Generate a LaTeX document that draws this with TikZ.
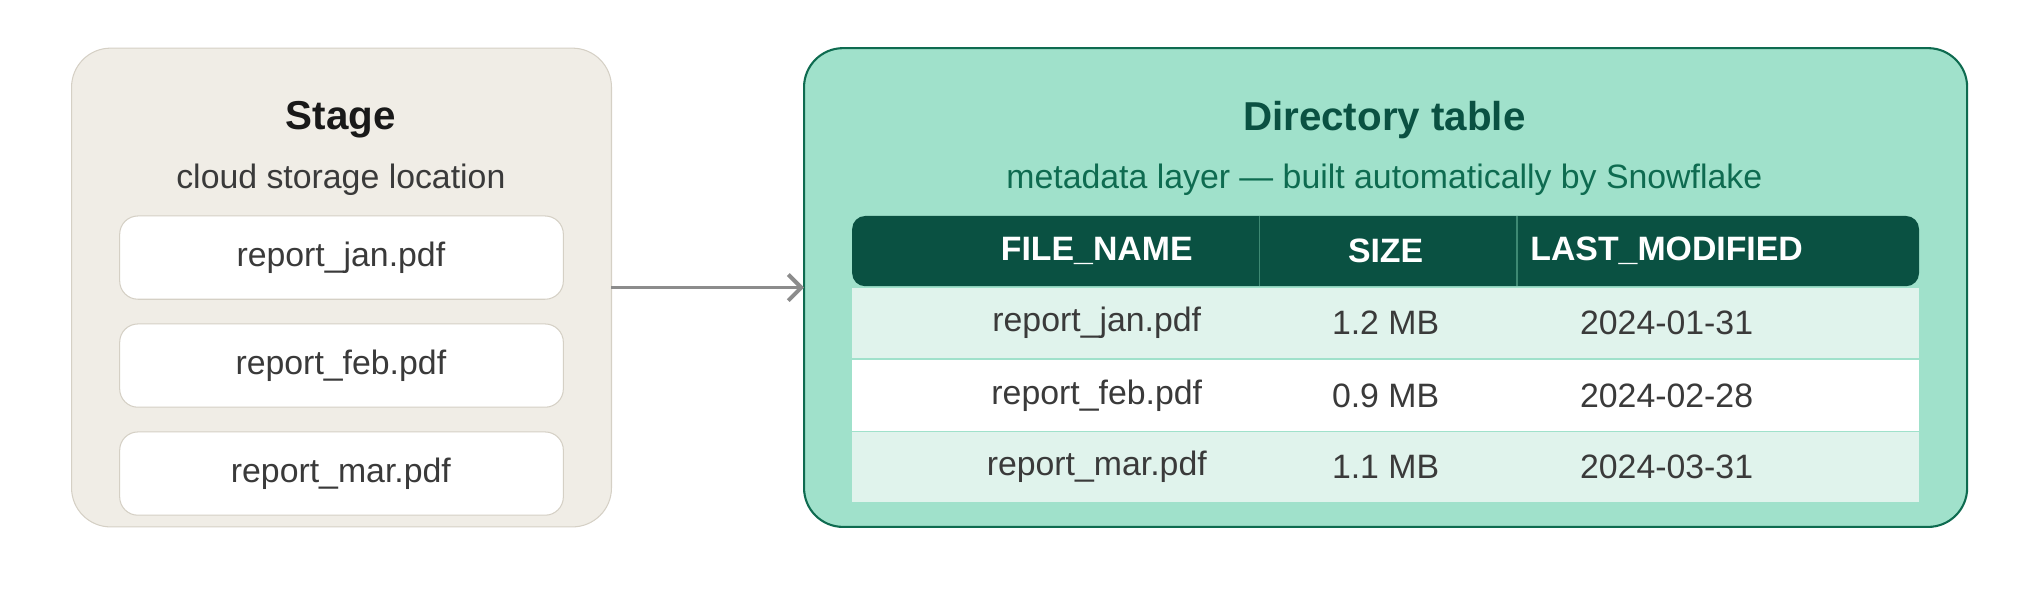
\documentclass[tikz,border=0pt]{standalone}
\usepackage{fontspec}
\setmainfont{Liberation Sans}
\usetikzlibrary{arrows.meta}
\newcommand{\unitsize}{0.5pt}
\definecolor{stagefill}{HTML}{F0EDE6}
\definecolor{stageline}{HTML}{D5D0C5}
\definecolor{dirfill}{HTML}{A0E1CB}
\definecolor{dirline}{HTML}{0E6B50}
\definecolor{dirdark}{HTML}{0A5142}
\definecolor{rowfill}{HTML}{E0F3EC}
\definecolor{txt}{HTML}{3A3A3A}

\begin{document}
\begin{tikzpicture}[x=\unitsize,y=-\unitsize,
    txtnode/.style={inner sep=0pt,font=\fontsize{13}{15}\selectfont,text=txt},
    titlenode/.style={inner sep=0pt,font=\fontsize{15.5}{18}\selectfont\bfseries},
    headnode/.style={inner sep=0pt,font=\fontsize{13}{15}\selectfont\bfseries,text=white}
    ]
\useasboundingbox (0,0) rectangle (1568,460);
% stage
\draw[stageline,fill=stagefill,rounded corners=15pt] (55,37) rectangle (470,405);
\node[titlenode,text=black!90] (stage) at (262,92) {Stage};
\node[txtnode] (stagesub) at (262,138) {cloud storage location};
\foreach \y/\f/\n in {166/jan/fa,249/feb/fb,332/mar/fc}{
  \draw[stageline,fill=white,rounded corners=7pt] (92,\y) rectangle (433,\y+64);
  \node[txtnode] (\n) at (262,\y+32) {report\_\f.pdf};
}
% directory table
\draw[dirline,thick,fill=dirfill,rounded corners=15pt] (618,37) rectangle (1512,405);
\node[titlenode,text=dirdark] (dir) at (1064,92) {Directory table};
\node[txtnode,text=dirline] (dirsub) at (1064,138) {metadata layer — built automatically by Snowflake};
\coordinate (stageout) at (470,221);
\coordinate (dirin) at (618,221);
\draw[gray!90,line width=1.5pt,-{Straight Barb[length=5pt,width=10pt]}] (stageout) -- (dirin);
\fill[dirdark,rounded corners=5pt] (655,166) rectangle (1475,220);
\draw[dirline!80] (968,166) -- (968,220) (1166,166) -- (1166,220);
\node[headnode] (hname) at (843,193) {FILE\_NAME};
\node[headnode] (hsize) at (1065,193) {SIZE};
\node[headnode] (hmod) at (1281,193) {LAST\_MODIFIED};
\foreach \y/\c/\f/\s/\d in {221/rowfill/jan/1.2/01-31,277/white/feb/0.9/02-28,332/rowfill/mar/1.1/03-31}{
  \fill[\c] (655,\y) rectangle (1475,\y+54);
  \node[txtnode] (n\f) at (843,\y+27) {report\_\f.pdf};
  \node[txtnode] (s\f) at (1065,\y+27) {\s{} MB};
  \node[txtnode] (d\f) at (1281,\y+27) {2024-\d};
}
\end{tikzpicture}
\end{document}
